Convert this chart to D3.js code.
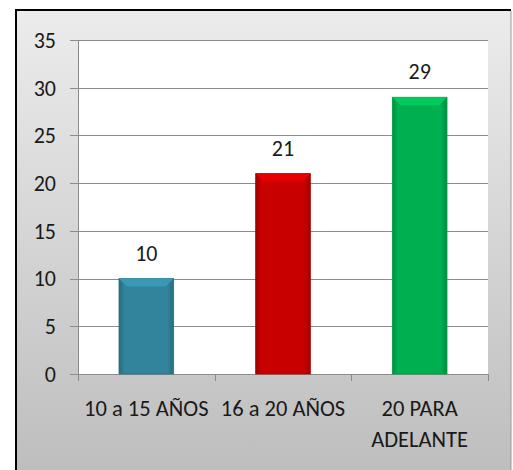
<!DOCTYPE html>
<html><head><meta charset="utf-8">
<script src="https://cdn.jsdelivr.net/npm/d3@7"></script>
<style>body{margin:0;background:#fff}svg{display:block}</style>
</head><body><svg id="c" width="513" height="470"></svg>
<script>
const categories = ["10 a 15 AÑOS", "16 a 20 AÑOS", "20 PARA ADELANTE"];
const values = [10, 21, 29];
const colors = ["#31849b", "#c80000", "#00b050"];
const yTicks = [0, 5, 10, 15, 20, 25, 30, 35];

const svg = d3.select("#c");
const font = "Carlito, Calibri, Lato, sans-serif";
const defs = svg.append("defs");
const bg = defs.append("linearGradient").attr("id","bg").attr("x1",0).attr("y1",0).attr("x2",0).attr("y2",1);
bg.append("stop").attr("offset","0%").attr("stop-color","#ececec");
bg.append("stop").attr("offset","100%").attr("stop-color","#bdbdbd");

svg.append("rect").attr("x",15).attr("y",9).attr("width",496).attr("height",470).attr("fill","url(#bg)");
svg.append("line").attr("x1",15).attr("x2",511).attr("y1",10).attr("y2",10).attr("stroke","#000").attr("stroke-width",2);
svg.append("line").attr("x1",16).attr("x2",16).attr("y1",9).attr("y2",470).attr("stroke","#000").attr("stroke-width",2);
svg.append("line").attr("x1",511).attr("x2",511).attr("y1",11).attr("y2",470).attr("stroke","#9a9a9a").attr("stroke-width",1);

const L = 78, R = 488, T = 40, B = 374;
const x = d3.scaleBand().domain(categories).range([L, R]).paddingInner(0.6).paddingOuter(0.3);
const xb = d3.scaleBand().domain(categories).range([L, R]);
const y = d3.scaleLinear().domain([0, 35]).range([B, T]);

svg.append("rect").attr("x",L).attr("y",T).attr("width",R-L).attr("height",B-T).attr("fill","#fff");

const g = svg.append("g");
g.selectAll("line.grid").data(yTicks).join("line").attr("class","grid")
  .attr("x1",L-8).attr("x2",R).attr("y1",d=>Math.round(y(d))+0.5).attr("y2",d=>Math.round(y(d))+0.5)
  .attr("stroke","#8c8c8c").attr("stroke-width",1);
g.append("line").attr("x1",L+0.5).attr("x2",L+0.5).attr("y1",T).attr("y2",B).attr("stroke","#8c8c8c");
const xt = categories.map(c=>xb(c)).concat([R]);
g.selectAll("line.xt").data(xt).join("line").attr("class","xt")
  .attr("x1",d=>Math.round(d)+0.5).attr("x2",d=>Math.round(d)+0.5).attr("y1",B).attr("y2",B+7).attr("stroke","#8c8c8c");

g.selectAll("text.yl").data(yTicks).join("text").attr("class","yl")
  .attr("x",56).attr("y",d=>y(d)).attr("dy","0.36em").attr("text-anchor","end")
  .attr("font-family",font).attr("font-size",22).attr("fill","#1a1a1a").text(d=>d);

colors.forEach((c,i)=>{
  const gr = defs.append("linearGradient").attr("id","bar"+i).attr("x1",0).attr("x2",1).attr("y1",0).attr("y2",0);
  const d = d3.color(c).darker(0.6), l = d3.color(c);
  gr.append("stop").attr("offset","0%").attr("stop-color",d);
  gr.append("stop").attr("offset","10%").attr("stop-color",l);
  gr.append("stop").attr("offset","88%").attr("stop-color",l);
  gr.append("stop").attr("offset","100%").attr("stop-color",d);
});

const bars = g.selectAll("g.bar").data(categories).join("g").attr("class","bar");
bars.append("rect").attr("x",d=>x(d)).attr("width",x.bandwidth())
  .attr("y",(d,i)=>y(values[i])).attr("height",(d,i)=>y(0)-y(values[i]))
  .attr("fill",(d,i)=>"url(#bar"+i+")").attr("stroke",(d,i)=>d3.color(colors[i]).darker(0.4)).attr("stroke-width",0.8);
bars.append("path").attr("d",(d,i)=>{
  const x0=x(d), x1=x(d)+x.bandwidth(), t=y(values[i]), h=8;
  return `M${x0},${t}L${x1},${t}L${x1-h},${t+h}L${x0+h},${t+h}Z`;
}).attr("fill",(d,i)=>d3.color(colors[i]).brighter(0.4));

g.selectAll("text.vl").data(categories).join("text").attr("class","vl")
  .attr("x",d=>x(d)+x.bandwidth()/2).attr("y",(d,i)=>y(values[i])-18)
  .attr("text-anchor","middle").attr("font-family",font).attr("font-size",22).attr("fill","#1a1a1a")
  .text((d,i)=>values[i]);

const catLines = [["10 a 15 AÑOS"],["16 a 20 AÑOS"],["20 PARA","ADELANTE"]];
categories.forEach((c,i)=>{
  const t = g.append("text").attr("text-anchor","middle").attr("font-family",font).attr("font-size",22.5).attr("fill","#1a1a1a")
    .attr("x", xb(c)+xb.bandwidth()/2).attr("y",416);
  catLines[i].forEach((ln,j)=>t.append("tspan").attr("x",xb(c)+xb.bandwidth()/2).attr("dy",j?31:0).text(ln));
});
</script></body></html>
